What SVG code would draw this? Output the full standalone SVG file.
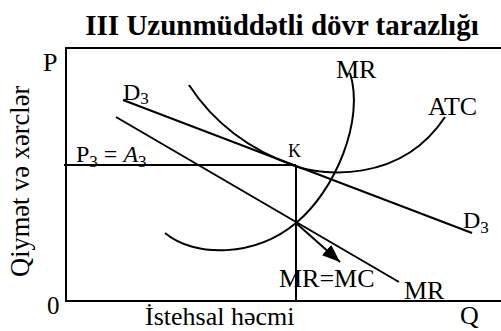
<svg xmlns="http://www.w3.org/2000/svg" width="501" height="331" viewBox="0 0 501 331">
<defs>
<style>
.t{font-family:"Liberation Serif","Times New Roman",serif;fill:#000}
.ln{fill:none;stroke:#000;stroke-width:2}
</style>
<marker id="ah2" viewBox="0 0 18 14" refX="18" refY="7" markerWidth="18" markerHeight="14" markerUnits="userSpaceOnUse" orient="auto">
<path d="M0,0 L18,7 L0,14 z" fill="#000"/>
</marker>
</defs>
<rect width="501" height="331" fill="#fff"/>
<text class="t" x="282" y="35" font-size="29" font-weight="bold" text-anchor="middle">III Uzunmüddətli dövr tarazlığı</text>
<g id="axes">
<path class="ln" d="M501,48 H66 V301 H501"/>
<text class="t" x="43" y="71" font-size="26">P</text>
<text class="t" x="47" y="314" font-size="25">0</text>
<text class="t" x="460" y="324" font-size="26">Q</text>
<text class="t" x="145" y="325" font-size="26">İstehsal həcmi</text>
<text class="t" transform="translate(29,277) rotate(-90)" font-size="26.5">Qiymət və xərclər</text>
</g>
<g id="connectors">
<path id="p3-line" class="ln" d="M64,165 H296"/>
<path id="q-line" class="ln" d="M296,165 V301"/>
<path id="arrow" class="ln" d="M296,223 L340,262" marker-end="url(#ah2)"/>
</g>
<g id="D3">
<path class="ln" d="M123,100 L472,233"/>
<text class="t" x="123" y="100" font-size="24">D<tspan font-size="17" dy="4">3</tspan></text>
<text class="t" x="463" y="228" font-size="24">D<tspan font-size="17" dy="5">3</tspan></text>
</g>
<g id="MR">
<path class="ln" d="M116,117 L399,282"/>
<text class="t" x="404" y="299" font-size="26">MR</text>
</g>
<g id="MC">
<path class="ln" d="M165,233 C195,258 255,257 296,223 C335,191 365,120 350,73"/>
<text class="t" x="336" y="78" font-size="26">MR</text>
</g>
<g id="ATC">
<path class="ln" d="M189,85 C215,125 250,150 295,166 C320,175 400,185 445,117"/>
<text class="t" x="428" y="115" font-size="26">ATC</text>
</g>
<g id="K">
<text class="t" x="288" y="157" font-size="18">K</text>
</g>
<g id="P3A3">
<text class="t" x="76" y="162" font-size="24">P<tspan font-size="17" dy="5">3</tspan><tspan dy="-5"> = </tspan><tspan font-style="italic">A</tspan><tspan font-size="17" dy="5">3</tspan></text>
</g>
<g id="eq">
<text class="t" x="279" y="287" font-size="26">MR=MC</text>
</g>
</svg>
